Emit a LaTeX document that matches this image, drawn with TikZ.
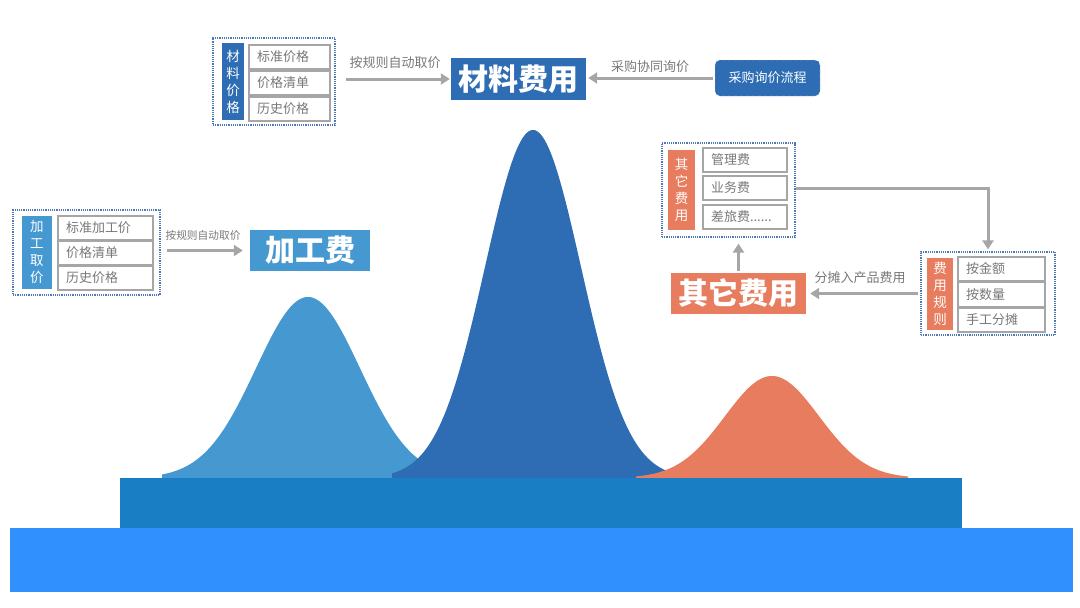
\documentclass[tikz,border=0pt]{standalone}
\usepackage{fontspec}
\setmainfont{Noto Sans CJK SC}
\usetikzlibrary{arrows.meta}
\definecolor{dblue}{RGB}{46,109,180}
\definecolor{lblue}{RGB}{70,152,208}
\definecolor{orng}{RGB}{231,124,94}
\definecolor{band1}{RGB}{25,126,196}
\definecolor{band2}{RGB}{48,145,254}
\definecolor{agray}{RGB}{166,166,166}
\definecolor{tgray}{RGB}{120,120,120}
\definecolor{dotc}{RGB}{80,120,180}
\tikzset{
  outerbox/.style={draw=dotc, densely dotted, line width=1.2pt, inner sep=0pt},
  catbox/.style={fill=#1, text=white, align=center, inner sep=0pt, font=\fontsize{13.5}{17}\selectfont},
  itembox/.style={draw=agray, line width=1.3pt, minimum height=24pt, text=tgray, inner ysep=0pt, inner xsep=8pt, text width=#1, align=left, font=\fontsize{13}{15}\selectfont},
  arr/.style={draw=agray, line width=3pt, -{Triangle[length=9pt,width=11pt]}},
  alabel/.style={text=tgray, font=\fontsize{13}{15}\selectfont, inner sep=0pt},
  titlebox/.style={fill=#1, text=white, inner sep=0pt, font=\bfseries\fontsize{30}{30}\selectfont}
}
\begin{document}
\begin{tikzpicture}[x=1pt,y=-1pt]
\useasboundingbox (0,0) rectangle (1080,608);
% peaks
\fill[lblue] plot[domain=162:462,samples=120] (\x,{478-181*exp(-0.5*((\x-308)/52)^2)}) -- (462,480) -- (162,480) -- cycle;
\fill[dblue] plot[domain=392:676,samples=140] (\x,{478-348*exp(-0.5*((\x-533)/48)^2)}) -- (676,480) -- (392,480) -- cycle;
\fill[orng] plot[domain=636:908,samples=120] (\x,{478-102*exp(-0.5*((\x-772)/47)^2)}) -- (908,480) -- (636,480) -- cycle;
% bands
\fill[band1] (120,478) rectangle (962,528);
\fill[band2] (10,528) rectangle (1073,592);

% top group
\node[outerbox, minimum width=122pt, minimum height=87pt] (matouter) at (274,81.5) {};
\node[catbox=dblue, minimum width=22pt, minimum height=77pt] (matcat) at (233,81.5) {材\\料\\价\\格};
\node[itembox=65pt] (mat1) at (289.5,57) {标准价格};
\node[itembox=65pt] (mat2) at (289.5,83) {价格清单};
\node[itembox=65pt] (mat3) at (289.5,109) {历史价格};
\node[titlebox=dblue, minimum width=135pt, minimum height=42pt] (mattitle) at (518.5,79) {材料费用};
\node[fill=dblue, draw=white!70!dblue, dashed, rounded corners=5pt, minimum width=105pt, minimum height=36pt, text=white, inner sep=0pt, font=\fontsize{13}{15}\selectfont] (proc) at (767.5,78) {采购询价流程};
\draw[arr, shorten <=10pt, shorten >=1pt] (matouter.east |- mattitle.west) -- (mattitle.west);
\node[alabel] (lab1) at (395,63) {按规则自动取价};
\draw[arr, shorten <=2pt, shorten >=2pt] (proc.west) -- (mattitle.east |- proc.west);
\node[alabel] (lab2) at (650,67) {采购协同询价};

% left group
\node[outerbox, minimum width=147pt, minimum height=85pt] (procouter) at (86.5,252.5) {};
\node[catbox=lblue, minimum width=30pt, minimum height=73pt] (proccat) at (37,252.5) {加\\工\\取\\价};
\node[itembox=79pt] (pr1) at (105.5,228) {标准加工价};
\node[itembox=79pt] (pr2) at (105.5,253) {价格清单};
\node[itembox=79pt] (pr3) at (105.5,278) {历史价格};
\node[titlebox=lblue, minimum width=120pt, minimum height=41pt] (proctitle) at (310,250.5) {加工费};
\draw[arr, shorten <=6pt, shorten >=7pt] (procouter.east |- proctitle.west) -- (proctitle.west);
\node[alabel, font=\fontsize{10.7}{12}\selectfont] (lab3) at (203,235) {按规则自动取价};

% right group
\node[outerbox, minimum width=133pt, minimum height=94pt] (othouter) at (728.5,190) {};
\node[catbox=orng, minimum width=27pt, minimum height=80pt] (othcat) at (681.5,190) {其\\它\\费\\用};
\node[itembox=68pt] (oth1) at (745,160) {管理费};
\node[itembox=68pt] (oth2) at (745,188) {业务费};
\node[itembox=68pt] (oth3) at (745,217) {差旅费......};
\node[outerbox, minimum width=134pt, minimum height=83pt] (ruleouter) at (988,293.5) {};
\node[catbox=orng, minimum width=26pt, minimum height=72pt] (rulecat) at (940,294) {费\\用\\规\\则};
\node[itembox=71pt] (ru1) at (1001.5,269) {按金额};
\node[itembox=71pt] (ru2) at (1001.5,294.5) {按数量};
\node[itembox=71pt] (ru3) at (1001.5,320) {手工分摊};
\node[titlebox=orng, minimum width=135pt, minimum height=41pt] (othtitle) at (738.5,293.5) {其它费用};
\draw[arr, shorten >=2pt] (othouter.east |- oth2.east) -| (ruleouter.north);
\draw[arr, shorten <=2pt, shorten >=4pt] (ruleouter.west) -- (othtitle.east);
\node[alabel] (lab4) at (860,278) {分摊入产品费用};
\draw[arr, shorten <=2pt, shorten >=6pt] (othtitle.north) -- (othtitle.north |- othouter.south);
\end{tikzpicture}
\end{document}
